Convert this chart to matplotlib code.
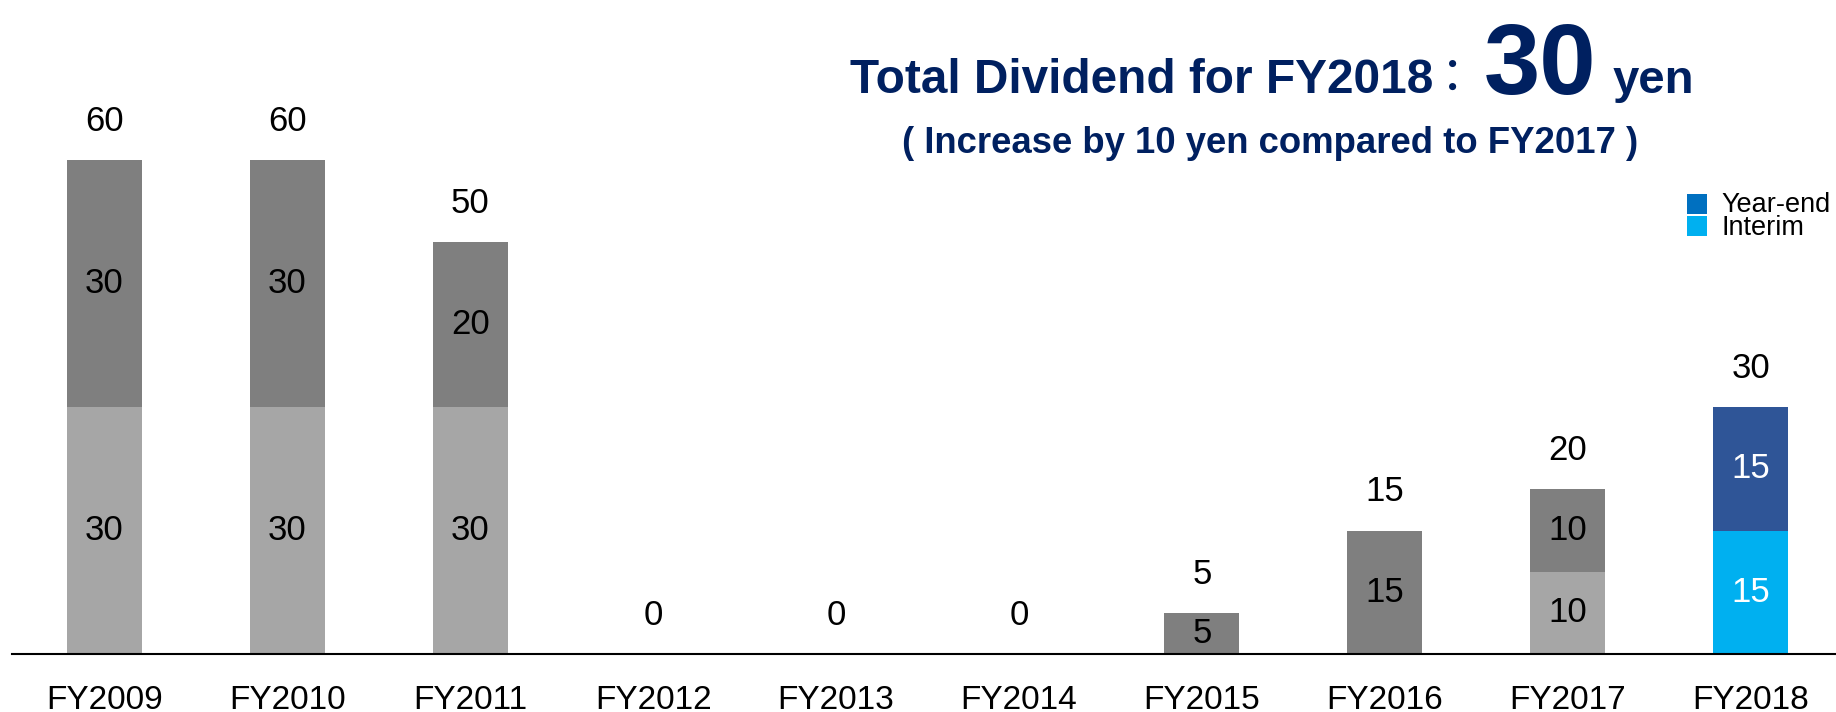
import matplotlib
matplotlib.use("Agg")
import matplotlib.pyplot as plt
from matplotlib.patches import Rectangle

plt.rcParams['font.family'] = ['Liberation Sans', 'Noto Sans CJK JP', 'DejaVu Sans']

years = ['FY2009', 'FY2010', 'FY2011', 'FY2012', 'FY2013',
         'FY2014', 'FY2015', 'FY2016', 'FY2017', 'FY2018']
interim = [30, 30, 30, 0, 0, 0, 0, 0, 10, 15]
year_end = [30, 30, 20, 0, 0, 0, 5, 15, 10, 15]
totals = [a + b for a, b in zip(interim, year_end)]
legend_labels = ['Year-end', 'Interim']

gray_interim = '#A6A6A6'
gray_yearend = '#7F7F7F'
blue_interim = '#00B0F0'
blue_yearend = '#2F5597'
legend_yearend = '#0070C0'
navy = '#002060'

W, H = 1836, 712
fig = plt.figure(figsize=(W / 100, H / 100), dpi=100)

def fx(x):
    return x / W

def fy(y):
    return 1 - y / H

base_px = 654
left_px = 12
ax = fig.add_axes([fx(left_px), fy(base_px), 1 - fx(left_px), base_px / H])

n = len(years)
xs = list(range(n))
int_colors = [gray_interim] * (n - 1) + [blue_interim]
ye_colors = [gray_yearend] * (n - 1) + [blue_yearend]
txt_colors = ['black'] * (n - 1) + ['white']

bw = 0.41
b1 = ax.bar(xs, interim, width=bw, color=int_colors, linewidth=0)
b2 = ax.bar(xs, year_end, width=bw, bottom=interim, color=ye_colors, linewidth=0)

for i in xs:
    if interim[i] > 0:
        ax.text(i, interim[i] / 2, str(interim[i]), ha='center', va='center',
                fontsize=25, color=txt_colors[i])
    if year_end[i] > 0:
        ax.text(i, interim[i] + year_end[i] / 2, str(year_end[i]), ha='center',
                va='center', fontsize=25, color=txt_colors[i])
    ax.annotate(str(totals[i]), xy=(i, totals[i]), xytext=(0, 21),
                textcoords='offset points', ha='center', va='baseline',
                fontsize=25, color='black')

px_per_unit = 8.23
ax.set_ylim(0, base_px / px_per_unit)
spacing = 182.9
c0 = 104.5
ax.set_xlim((left_px - c0) / spacing, (W - c0) / spacing)
ax.set_xticks(xs)
ax.set_xticklabels(years, fontsize=24)
ax.tick_params(axis='x', length=0, pad=22)
ax.set_yticks([])
for s in ['top', 'left', 'right']:
    ax.spines[s].set_visible(False)
ax.spines['bottom'].set_linewidth(1.5)
ax.spines['bottom'].set_color('black')
ax.patch.set_alpha(0)

# Title
fig.text(fx(850), fy(93), 'Total Dividend for FY2018', fontsize=34.4,
         fontweight='bold', color=navy, ha='left', va='baseline')
fig.text(fx(1453), fy(93), '：', fontsize=34, color=navy,
         ha='center', va='baseline', family=['Noto Sans CJK JP', 'Liberation Sans'])
fig.text(fx(1484), fy(94), '30', fontsize=73, fontweight='bold', color=navy,
         ha='left', va='baseline')
fig.text(fx(1613), fy(93), 'yen', fontsize=34, fontweight='bold', color=navy,
         ha='left', va='baseline')
fig.text(fx(1270), fy(153), '( Increase by 10 yen compared to FY2017 )', fontsize=26.3,
         fontweight='bold', color=navy, ha='center', va='baseline')

# Legend
for col, ytop in [(legend_yearend, 194), (blue_interim, 216)]:
    fig.patches.append(Rectangle((fx(1687), fy(ytop + 20)), 20 / W, 20 / H,
                                 transform=fig.transFigure, color=col, linewidth=0))
fig.text(fx(1721), fy(235), '\n'.join(legend_labels), fontsize=19.5, color='black',
         ha='left', va='baseline', linespacing=0.86)

fig.savefig('out.png', dpi=100)
